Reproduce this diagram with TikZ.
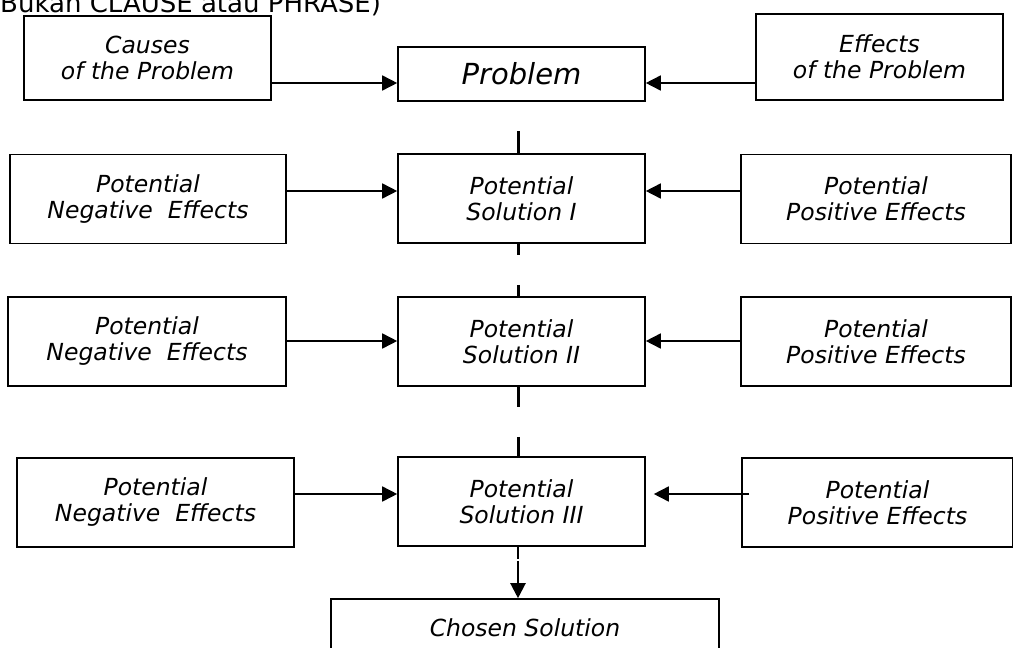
\documentclass[tikz,border=0pt]{standalone}
\usepackage{fontspec}
\setmainfont{DejaVu Sans}
\usetikzlibrary{arrows.meta}

\begin{document}
\begin{tikzpicture}[x=1pt, y=-1pt,
    box/.style={draw, line width=1.6pt, inner sep=0pt, align=center,
      font=\fontsize{23.5}{26}\selectfont\itshape},
    sidebox/.style={box, minimum width=274pt, minimum height=89pt},
    solbox/.style={box, minimum width=247pt, minimum height=89pt},
    arr/.style={line width=1.6pt, -{Triangle[length=15pt,width=15pt]}},
    link/.style={line width=3pt}]
  \path[use as bounding box, clip] (0,0) rectangle (1013,648);

  \node[anchor=base west, inner sep=0pt, font=\fontsize{26}{30}\selectfont] (note) at (0,12) {Bukan CLAUSE atau PHRASE)};

  \node[box, minimum width=247pt, minimum height=84pt] (cause) at (147.5,58) {Causes\\of the Problem};
  \node[box, minimum width=247pt, minimum height=54pt, font=\fontsize{29}{32}\selectfont\itshape] (prob) at (521.5,74) {Problem};
  \node[box, minimum width=247pt, minimum height=86pt] (effect) at (879.5,57) {Effects\\of the Problem};

  \node[sidebox, minimum width=276pt] (neg1) at (148,199) {Potential\\Negative~ Effects};
  \node[solbox] (sol1) at (521.5,198.5) {Potential\\Solution I};
  \node[sidebox, minimum width=270pt] (pos1) at (876,199) {Potential\\Positive Effects};

  \node[sidebox, minimum width=278pt] (neg2) at (147,341.5) {Potential\\Negative~ Effects};
  \node[solbox] (sol2) at (521.5,341.5) {Potential\\Solution II};
  \node[sidebox, minimum width=270pt] (pos2) at (876,341.5) {Potential\\Positive Effects};

  \node[sidebox, minimum width=277pt] (neg3) at (155.5,502.5) {Potential\\Negative~ Effects};
  \node[solbox] (sol3) at (521.5,501.5) {Potential\\Solution III};
  \node[sidebox, minimum width=271pt] (pos3) at (877.5,502.5) {Potential\\Positive Effects};

  \node[box, minimum width=388pt, minimum height=58pt] (chosen) at (525,628) {Chosen Solution};

  \coordinate (r1) at (0,83);
  \coordinate (r2) at (0,191);
  \coordinate (r3) at (0,341);
  \coordinate (r4) at (0,494);
  \coordinate (spine) at (518,0);

  \draw[arr] (cause.east |- r1) -- (prob.west |- r1);
  \draw[arr] (effect.west |- r1) -- (prob.east |- r1);
  \draw[arr] (neg1.east |- r2) -- (sol1.west |- r2);
  \draw[arr] (pos1.west |- r2) -- (sol1.east |- r2);
  \draw[arr] (neg2.east |- r3) -- (sol2.west |- r3);
  \draw[arr] (pos2.west |- r3) -- (sol2.east |- r3);
  \draw[arr] (neg3.east |- r4) -- (sol3.west |- r4);
  \draw[arr, shorten <=-8pt, shorten >=8pt] (pos3.west |- r4) -- (sol3.east |- r4);

  \draw[link, dash pattern=on 22pt off 40pt] (sol1.north -| spine) -- (prob.south -| spine);
  \draw[link, dash pattern=on 11pt off 30pt on 20pt off 5pt] (sol1.south -| spine) -- (sol2.north -| spine);
  \draw[link, dash pattern=on 20pt off 30pt on 30pt off 5pt] (sol2.south -| spine) -- (sol3.north -| spine);
  \draw[arr, line width=2.2pt, dash pattern=on 12pt off 2pt on 80pt off 2pt] (sol3.south -| spine) -- (chosen.north -| spine);
\end{tikzpicture}
\end{document}
